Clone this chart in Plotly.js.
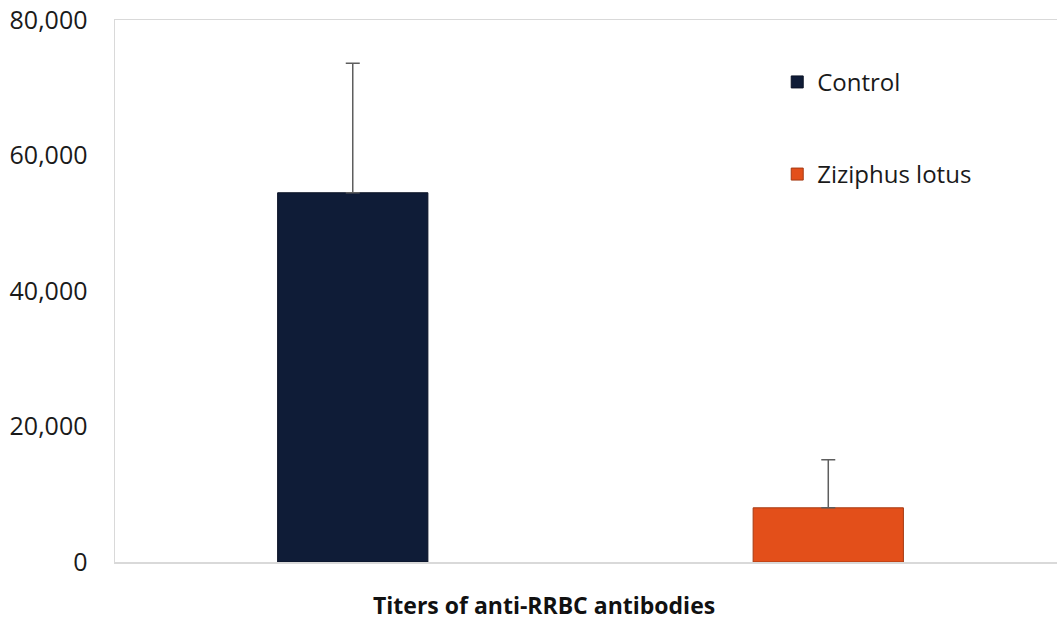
<!DOCTYPE html>
<html>
<head>
<meta charset="utf-8">
<script src="https://cdn.plot.ly/plotly-3.0.1.min.js"></script>
<style>html,body{margin:0;padding:0;background:#fff;}#chart{width:1057px;height:620px;}</style>
</head>
<body>
<div id="chart"></div>
<script>
const categories = ["Titers of anti-RRBC antibodies"];
const seriesNames = ["Control", "Ziziphus lotus"];
const controlValues = [54500];
const controlErrors = [19100];
const ziziphusValues = [8000];
const ziziphusErrors = [7100];
const yTickVals = [0, 20000, 40000, 60000, 80000];
const yTickText = ["0", "20,000", "40,000", "60,000", "80,000"];
const xAxisTitle = "Titers of anti-RRBC antibodies";

const font = "Open Sans, Noto Sans, sans-serif";

const traces = [
  {
    type: "bar", name: seriesNames[0], x: categories, y: controlValues,
    marker: {color: "#0f1c37", line: {color: "#0a1226", width: 1}},
    error_y: {type: "data", array: controlErrors, symmetric: false, arrayminus: [0], color: "#5e5e5e", thickness: 1.5, width: 7},
    legend: "legend", hoverinfo: "skip"
  },
  {
    type: "bar", name: seriesNames[1], x: categories, y: ziziphusValues,
    marker: {color: "#e34f1a", line: {color: "#a53a12", width: 1}},
    error_y: {type: "data", array: ziziphusErrors, symmetric: false, arrayminus: [0], color: "#5e5e5e", thickness: 1.5, width: 7},
    legend: "legend2", hoverinfo: "skip"
  }
];

const legendCommon = {
  xanchor: "left", yanchor: "middle", bgcolor: "rgba(0,0,0,0)",
  font: {family: font, size: 24, color: "#1a1a1a"}, itemwidth: 30
};

const layout = {
  width: 1057, height: 620,
  margin: {l: 115, r: 0, t: 20, b: 58, pad: 0},
  paper_bgcolor: "#fff", plot_bgcolor: "#fff",
  barmode: "group", bargap: 0.0, bargroupgap: 0.684,
  showlegend: true,
  legend: Object.assign({x: 0.703, y: 0.885}, legendCommon),
  legend2: Object.assign({x: 0.703, y: 0.715}, legendCommon),
  xaxis: {
    type: "category", range: [-0.5, 0.4905], showticklabels: false,
    showline: true, linecolor: "#d9d9d9", linewidth: 1.5, mirror: true,
    ticks: "", showgrid: false, zeroline: false, fixedrange: true
  },
  yaxis: {
    range: [0, 80000], tickvals: yTickVals, ticktext: yTickText,
    showline: true, linecolor: "#d9d9d9", linewidth: 1.5,
    showgrid: false, zeroline: false, ticks: "",
    ticklabelstandoff: 21,
    tickfont: {family: font, size: 25, color: "#1a1a1a"}, fixedrange: true
  },
  annotations: [{
    text: "<b>" + xAxisTitle + "</b>", xref: "paper", yref: "paper",
    x: 0.4555, y: -0.08, xanchor: "center", yanchor: "middle", showarrow: false,
    font: {family: font, size: 23, color: "#111"}
  }]
};

Plotly.newPlot("chart", traces, layout, {displayModeBar: false, staticPlot: true});
</script>
</body>
</html>
